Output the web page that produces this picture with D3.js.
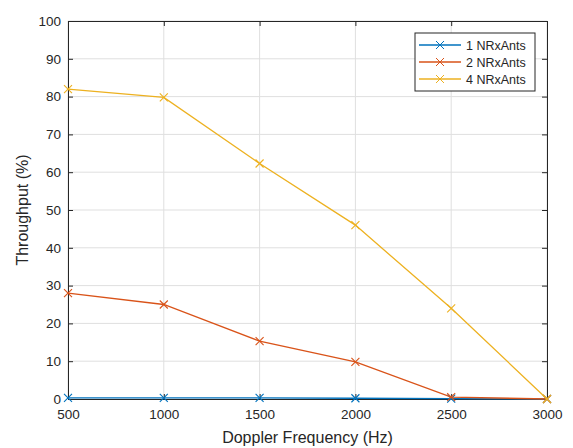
<!DOCTYPE html>
<html>
<head>
<meta charset="utf-8">
<script src="https://cdn.jsdelivr.net/npm/d3@7"></script>
<style>
  body { margin: 0; background: #fff; }
  text { font-family: "Liberation Sans", Arial, sans-serif; fill: #262626; }
</style>
</head>
<body>
<svg></svg>
<script>
// Data
const freqs = [500, 1000, 1500, 2000, 2500, 3000];
const ant1 = [0.3, 0.3, 0.3, 0.2, 0.1, 0];
const ant2 = [28, 25, 15.3, 9.8, 0.5, 0];
const ant4 = [82, 79.8, 62.3, 46, 24, 0];
const seriesNames = ["1 NRxAnts", "2 NRxAnts", "4 NRxAnts"];
const seriesColors = ["#0072BD", "#D95319", "#EDB120"];
const yTicks = [0, 10, 20, 30, 40, 50, 60, 70, 80, 90, 100];

const width = 573;
const height = 448;
const margin = { top: 21, right: 26, bottom: 49, left: 68 };

const svg = d3.select("svg")
  .attr("width", width)
  .attr("height", height);

const chartWidth = width - margin.left - margin.right;
const chartHeight = height - margin.top - margin.bottom;

const chart = svg.append("g")
  .attr("transform", `translate(${margin.left}, ${margin.top})`);

const x = d3.scaleLinear().domain([500, 3000]).range([0, chartWidth]);
const y = d3.scaleLinear().domain([0, 100]).range([chartHeight, 0]);

// grid
chart.append("g").selectAll("line")
  .data(freqs)
  .enter().append("line")
  .attr("x1", d => x(d)).attr("x2", d => x(d))
  .attr("y1", 0).attr("y2", chartHeight)
  .attr("stroke", "#dfdfdf");

chart.append("g").selectAll("line")
  .data(yTicks)
  .enter().append("line")
  .attr("x1", 0).attr("x2", chartWidth)
  .attr("y1", d => y(d)).attr("y2", d => y(d))
  .attr("stroke", "#dfdfdf");

// axes, ticks inside like matlab
chart.append("g")
  .attr("transform", `translate(0, ${chartHeight})`)
  .call(d3.axisBottom(x).tickValues(freqs).tickFormat(d3.format("d")).tickSize(-5).tickPadding(10));
chart.append("g")
  .call(d3.axisLeft(y).tickValues(yTicks).tickSize(-5).tickPadding(7));
chart.append("g")
  .call(d3.axisTop(x).tickValues(freqs).tickSize(-5).tickFormat(""));
chart.append("g")
  .attr("transform", `translate(${chartWidth}, 0)`)
  .call(d3.axisRight(y).tickValues(yTicks).tickSize(-5).tickFormat(""));

chart.selectAll(".domain").attr("stroke", "#262626");
chart.selectAll(".tick line").attr("stroke", "#262626");
chart.selectAll(".tick text")
  .style("font-size", "13.5px")
  .attr("fill", "#262626");

// lines
const allSeries = [ant1, ant2, ant4];
const line = d3.line()
  .x((d, i) => x(freqs[i]))
  .y(d => y(d));

allSeries.forEach((vals, si) => {
  chart.append("path")
    .datum(vals)
    .attr("fill", "none")
    .attr("stroke", seriesColors[si])
    .attr("stroke-width", 1.3)
    .attr("d", line);

  chart.append("g").selectAll("path")
    .data(vals)
    .enter().append("path")
    .attr("transform", (d, i) => `translate(${x(freqs[i])}, ${y(d)})`)
    .attr("d", "M-4,-4L4,4M-4,4L4,-4")
    .attr("stroke", seriesColors[si])
    .attr("stroke-width", 1.1);
});

// legend
const legend = chart.append("g")
  .attr("transform", `translate(${415 - margin.left}, ${33 - margin.top})`);

legend.append("rect")
  .attr("width", 120)
  .attr("height", 58)
  .attr("fill", "#fff")
  .attr("stroke", "#262626");

seriesNames.forEach((name, i) => {
  const row = legend.append("g")
    .attr("transform", `translate(0, ${12 + i * 17})`);
  row.append("line")
    .attr("x1", 4).attr("x2", 46)
    .attr("stroke", seriesColors[i])
    .attr("stroke-width", 1.3);
  row.append("path")
    .attr("transform", "translate(25, 0)")
    .attr("d", "M-4,-4L4,4M-4,4L4,-4")
    .attr("stroke", seriesColors[i]);
  row.append("text")
    .attr("x", 51)
    .attr("y", 4.5)
    .style("font-size", "12.5px")
    .text(name);
});

// labels
svg.append("text")
  .attr("x", margin.left + chartWidth / 2)
  .attr("y", 443)
  .attr("text-anchor", "middle")
  .style("font-size", "16px")
  .text("Doppler Frequency (Hz)");

svg.append("text")
  .attr("x", -(margin.top + chartHeight / 2))
  .attr("y", 28)
  .attr("text-anchor", "middle")
  .attr("transform", "rotate(-90)")
  .style("font-size", "16px")
  .text("Throughput (%)");
</script>
</body>
</html>
